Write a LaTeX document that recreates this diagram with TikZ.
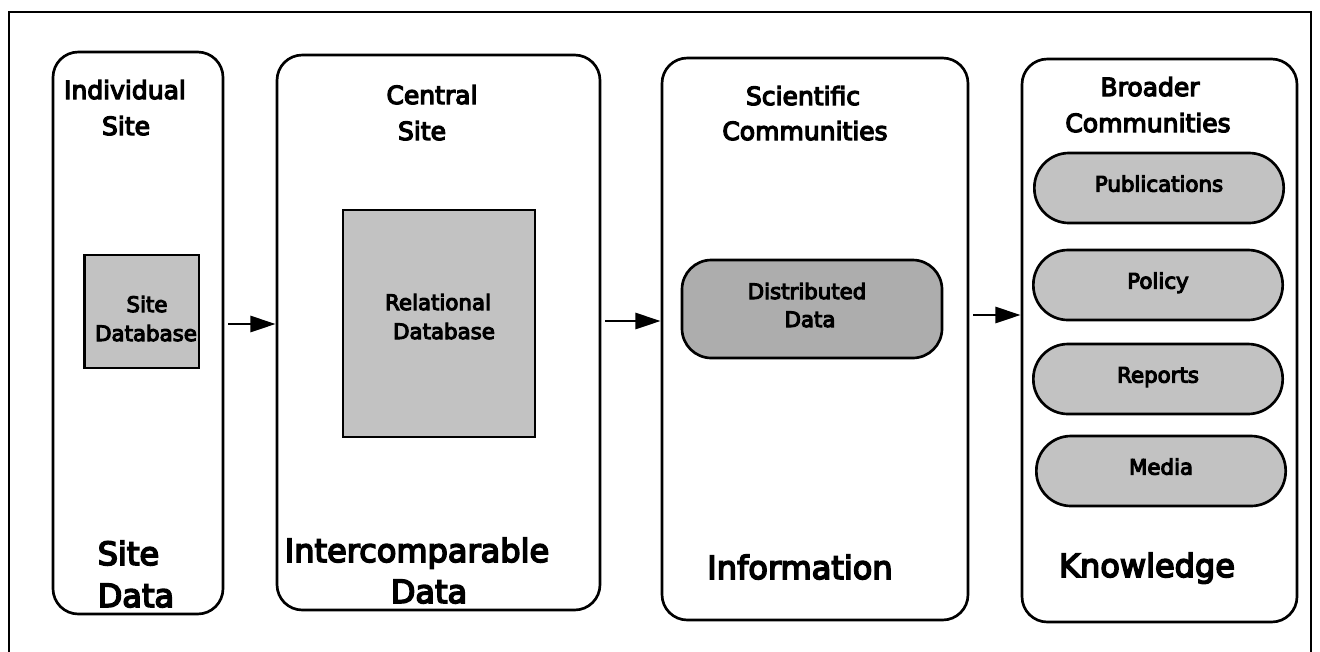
\documentclass[tikz,border=0pt]{standalone}
\usepackage{fontspec}
\setmainfont{DejaVu Sans}[FakeBold=5]
\usetikzlibrary{arrows.meta}
\tikzset{
  outerbox/.style={draw, line width=2pt, rounded corners=19pt, inner sep=0pt},
  dbbox/.style={draw, line width=2pt, fill=black!24, inner sep=0pt},
  pill/.style={draw, line width=2pt, fill=black!24, rounded corners=26pt, inner sep=0pt, minimum width=187pt, minimum height=52.5pt, font=\fontsize{16}{19}\selectfont, text height=0.74em, text depth=0.2em},
  head/.style={anchor=base, font=\fontsize{18.75}{25}\selectfont},
  big/.style={anchor=base, font=\fontsize{24}{30}\selectfont},
  inner/.style={anchor=base, font=\fontsize{16}{20}\selectfont},
  arr/.style={line width=2.2pt, -{Triangle[length=19pt,width=12pt]}}
}
\begin{document}
\begin{tikzpicture}[x=0.75pt,y=-0.75pt]
\useasboundingbox (0,0) rectangle (1320,651);
\draw[line width=1.1pt] (9,12) rectangle (1311,670);
% main columns
\node[outerbox, minimum width=127.5pt, minimum height=421.5pt] (b1) at (138,333) {};
\node[outerbox, minimum width=242.25pt, minimum height=416.25pt] (b2) at (438.5,332.5) {};
\node[outerbox, minimum width=229.5pt, minimum height=421.5pt] (b3) at (815,339) {};
\node[outerbox, minimum width=206.25pt, minimum height=422.25pt] (b4) at (1159.5,340.5) {};
% headers
\node[head] (h1a) at (125,99) {Individual};
\node[head] (h1b) at (126,135) {Site};
\node[head] (h2a) at (432,104) {Central};
\node[head] (h2b) at (422,140) {Site};
\node[head] (h3a) at (803,105) {Scientific};
\node[head] (h3b) at (805,140) {Communities};
\node[head] (h4a) at (1150,96) {Broader};
\node[head] (h4b) at (1148,132) {Communities};
% inner boxes
\node[dbbox, minimum width=86pt, minimum height=84.75pt] (sdb) at (141.5,311.5) {};
\node[inner] (sdbt1) at (147,312) {Site};
\node[inner] (sdbt2) at (146,341) {Database};
\node[dbbox, minimum width=144pt, minimum height=170.25pt] (rdb) at (439,323.5) {};
\node[inner] (rdbt1) at (438,310) {Relational};
\node[inner] (rdbt2) at (444,339) {Database};
\node[dbbox, fill=black!32, rounded corners=22pt, minimum width=195pt, minimum height=73.5pt] (dd) at (812,309) {};
\node[inner] (ddt1) at (807,299) {Distributed};
\node[inner] (ddt2) at (810,327) {Data};
\node[pill] (pub) at (1159,188) {Publications};
\node[pill] (pol) at (1158,285) {Policy};
\node[pill] (rep) at (1158,379) {Reports};
\node[pill] (med) at (1161,471) {Media};
% bottom labels
\node[big, anchor=base west] (f1a) at (93,565) {Site};
\node[big, anchor=base west] (f1b) at (93,607) {Data};
\node[big] (f2a) at (417,562) {Intercomparable};
\node[big] (f2b) at (429,603) {Data};
\node[big] (f3) at (800,579) {Information};
\node[big] (f4) at (1147,577) {Knowledge};
% arrows
\coordinate (y1) at (0,324);
\coordinate (y2) at (0,321);
\coordinate (y3) at (0,315);
\draw[arr, shorten <=3pt] (b1.east |- y1) -- (b2.west |- y1);
\draw[arr, shorten <=3pt] (b2.east |- y2) -- (b3.west |- y2);
\draw[arr, shorten <=3pt] (b3.east |- y3) -- (b4.west |- y3);
\end{tikzpicture}
\end{document}
